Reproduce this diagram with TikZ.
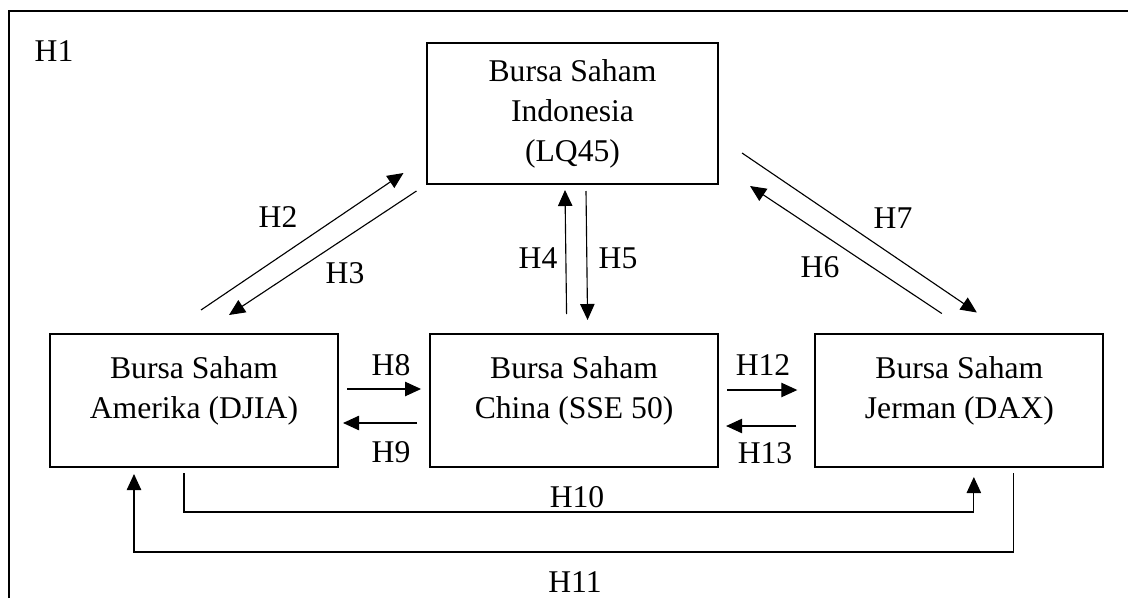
\documentclass[tikz,border=0pt]{standalone}
\usepackage{fontspec}
\setmainfont{Liberation Serif}
\usetikzlibrary{calc}
\usetikzlibrary{positioning}
\usetikzlibrary{arrows.meta}
\tikzset{
  box/.style = {draw=black, line width=1.4pt, align=center, inner sep=0pt,
    minimum width=7.2cm, minimum height=3.325cm},
  boxtext/.style = {align=center, inner sep=0pt},% text of the lower boxes
  hyp/.style = {inner sep=0pt},
  conn/.style = {->, line width=0.8pt},
}

\begin{document}
\begin{tikzpicture}[x=0.025cm, y=-0.025cm, >={Triangle[length=0.4cm,width=0.36cm]},
  font=\fontsize{22.5pt}{28.5pt}\selectfont]
\useasboundingbox (0,0) rectangle (1128,598);
% frame
\draw [line width=0.8pt] (9,598) -- (9,11) -- (1128,11);

% boxes
\node [box] (djia) at (194,400.5) {};
\node [box, right=2.25cm of djia] (sse) {};
\node [box, right=2.38cm of sse] (dax) {};
\node [box, minimum width=7.25cm, minimum height=3.525cm] (idx) at (572.5,113.5)
  {Bursa Saham\\Indonesia\\(LQ45)};
\node [boxtext] (djiatext) at ($(djia)+(0,-10)$) {Bursa Saham\\Amerika (DJIA)};
\node [boxtext] (ssetext) at ($(sse)+(0,-10)$) {Bursa Saham\\China (SSE 50)};
\node [boxtext] (daxtext) at ($(dax)+(0,-10)$) {Bursa Saham\\Jerman (DAX)};

% connectors
\draw [conn] ($(djia.north)+(7,-23)$) -- ($(idx.south west)+(-23,-12)$);
\draw [conn] ($(idx.south west)+(-10,6)$) -- ($(djia.north)+(35,-18)$);
\draw [conn] ($(sse.north)+(-7.5,-19)$) -- ($(idx.south)+(-7.5,5)$);
\draw [conn] ($(idx.south)+(13.5,6)$) -- ($(sse.north)+(13.5,-13)$);
\draw [conn] ($(dax.north)+(-17.5,-19.5)$) -- ($(idx.south east)+(31.5,1)$);
\draw [conn] ($(idx.east)+(23.5,39.5)$) -- ($(dax.north)+(17.5,-20.5)$);
\draw [conn] ($(djia.east)+(8,-11.5)$) -- ($(sse.west)+(-8,-11.5)$);
\draw [conn] ($(sse.west)+(-12,22.5)$) -- ($(djia.east)+(4,22.5)$);
\draw [conn] ($(sse.east)+(8,-10.5)$) -- ($(dax.west)+(-17,-10.5)$);
\draw [conn] ($(dax.west)+(-18,25.5)$) -- ($(sse.east)+(7,25.5)$);
\draw [conn] ($(djia.south)+(-10,5)$) -- ++(0,39) -| ($(dax.south)+(14.5,9)$);
\draw [conn] ($(dax.south)+(54.5,5)$) -- ++(0,79) -| ($(djia.south)+(-60,6)$);

% labels
\node [hyp] (h1) at (54,51) {H1};
\node [hyp] (h2) at (278,217) {H2};
\node [hyp] (h3) at (345,273) {H3};
\node [hyp] (h4) at (538,258) {H4};
\node [hyp] (h5) at (618,258) {H5};
\node [hyp] (h6) at (820,267) {H6};
\node [hyp] (h7) at (893,218) {H7};
\node [hyp] (h8) at (391,365) {H8};
\node [hyp] (h9) at (391,452) {H9};
\node [hyp] (h10) at (577,497.5) {H10};
\node [hyp] (h11) at (575,582.5) {H11};
\node [hyp] (h12) at (763,365) {H12};
\node [hyp] (h13) at (765,453) {H13};
\end{tikzpicture}
\end{document}
